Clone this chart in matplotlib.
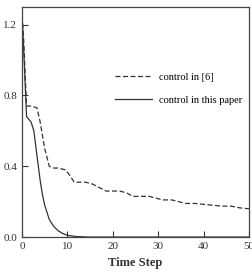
import matplotlib.pyplot as plt

plt.rcParams["font.family"] = ["Liberation Serif", "DejaVu Serif"]

# control in [6] (dashed)
t_ref = [0, 0.3, 1.0, 2.0, 3.3, 4.0, 5.0, 6.0, 7, 8, 9.5, 10.5, 11.5, 12.5, 14, 15.5,
         17, 18.5, 20, 21.5, 23, 24.5, 26, 28, 29.5, 31, 33, 34.5, 36, 38, 40, 42,
         44, 46, 48, 50]
v_ref = [1.25, 1.15, 0.74, 0.74, 0.73, 0.65, 0.50, 0.40, 0.39, 0.39, 0.38, 0.35,
         0.31, 0.31, 0.31, 0.30, 0.28, 0.26, 0.26, 0.26, 0.25, 0.23, 0.23, 0.23,
         0.22, 0.21, 0.21, 0.20, 0.19, 0.19, 0.185, 0.18, 0.175, 0.175, 0.165, 0.16]

# control in this paper (solid)
t_new = [0, 0.3, 1.0, 2.0, 2.6, 3.0, 3.5, 4.0, 4.5, 5, 6, 7, 8, 9, 10, 12, 15, 20,
         30, 40, 50]
v_new = [1.25, 1.1, 0.68, 0.65, 0.60, 0.52, 0.42, 0.32, 0.24, 0.18, 0.10, 0.06,
         0.035, 0.02, 0.01, 0.003, 0.0, 0.0, 0.0, 0.0, 0.0]

fig = plt.figure(figsize=(2.53, 2.76), dpi=100)
ax = fig.add_axes([0.087, 0.141, 0.897, 0.834])

ax.plot(t_ref, v_ref, color="#333333", lw=0.9, ls=(0, (4, 2)), label="control in [6]")
ax.plot(t_new, v_new, color="#333333", lw=0.9, label="control in this paper")

ax.set_xlim(0, 50)
ax.set_ylim(0, 1.3)
ax.set_xticks([0, 10, 20, 30, 40, 50])
ax.set_yticks([0.0, 0.4, 0.8, 1.2])
ax.set_yticklabels(["0.0", "0.4", "0.8", "1.2"])
ax.tick_params(direction="in", length=4, labelsize=8, colors="#333333")
ax.set_xlabel("Time Step", fontsize=9, fontweight="bold", color="#333333")
for s in ax.spines.values():
    s.set_color("#444444")
    s.set_linewidth(0.9)

ax.legend(loc="upper right", bbox_to_anchor=(1.01, 0.755), frameon=False,
          fontsize=7.5, handlelength=3.6, labelspacing=1.3, handletextpad=0.6)

fig.savefig("out.png")
